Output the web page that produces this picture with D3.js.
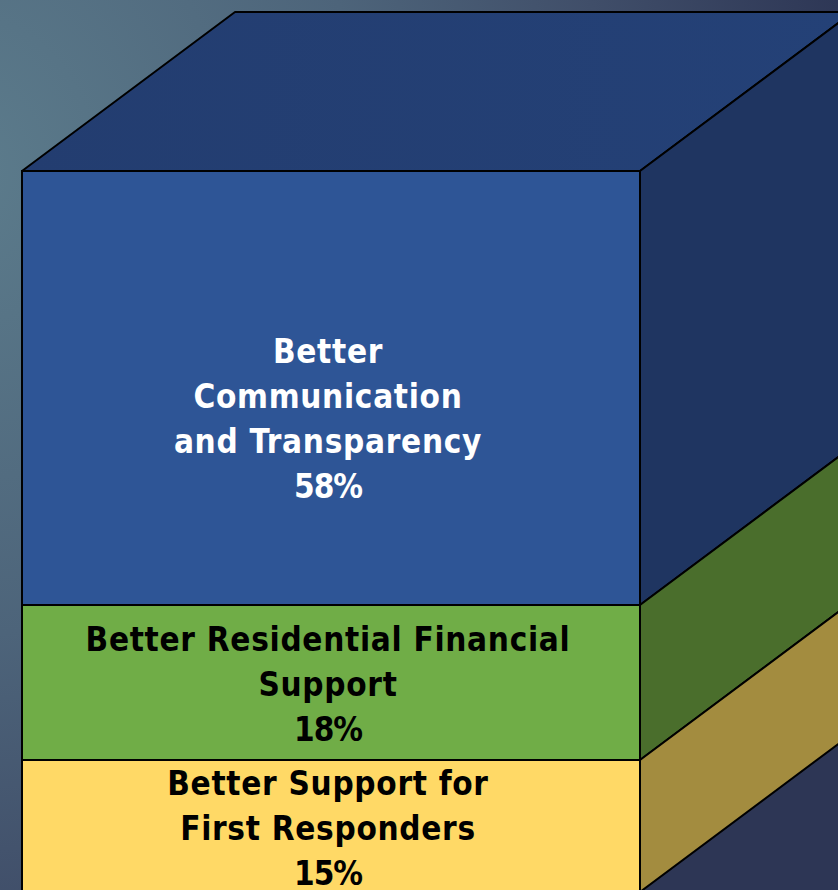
<!DOCTYPE html>
<html>
<head>
<meta charset="utf-8">
<script src="https://cdn.jsdelivr.net/npm/d3@7"></script>
<style>
html, body { margin: 0; padding: 0; overflow: hidden; }
svg { display: block; }
text { font-family: "DejaVu Sans"; font-stretch: condensed; font-weight: 700; font-size: 33px; letter-spacing: 0.7px; }
text.pct { letter-spacing: -1px; }
</style>
</head>
<body>
<div id="chart"></div>
<script>
const categories = ["Better Communication and Transparency", "Better Residential Financial Support", "Better Support for First Responders"];
const values = [58, 18, 15];
const labelLines = [
	["Better", "Communication", "and Transparency", "58%"],
	["Better Residential Financial", "Support", "18%"],
	["Better Support for", "First Responders", "15%"]
];
const frontColors = ["#2e5596", "#70ad47", "#ffd966"];
const sideColors = ["#1f3561", "#4a6e2c", "#a38c3f"];
const textColors = ["#ffffff", "#000000", "#000000"];
const labelFirstBaseline = [363, 651, 795];

const width = 838;
const height = 890;

// the bands in the picture are not quite proportional, so the scale goes through the cumulative totals
let cumulative = [0];
values.forEach(function(v){
	cumulative.push(cumulative[cumulative.length - 1] + v);
});
const y = d3.scaleLinear().domain(cumulative).range([171, 605, 760, 892]);
const x = d3.scaleLinear().domain([0, 1]).range([22, 640]);
const depthX = 213;
const depthY = -159;
const lineWidth = 2;

const svg = d3.select("#chart").append("svg").attr("width", width).attr("height", height);

const defs = svg.append("defs");
const bg = defs.append("radialGradient")
	.attr("id", "bg")
	.attr("gradientUnits", "userSpaceOnUse")
	.attr("cx", 0).attr("cy", 0).attr("r", 900)
	.attr("gradientTransform", "translate(-40,170) scale(1,1.15)");
bg.append("stop").attr("offset", "0").attr("stop-color", "#5c7c8c");
bg.append("stop").attr("offset", "0.45").attr("stop-color", "#4d647a");
bg.append("stop").attr("offset", "0.72").attr("stop-color", "#404e69");
bg.append("stop").attr("offset", "1").attr("stop-color", "#2d3655");

svg.append("rect").attr("width", width).attr("height", height).attr("fill", "url(#bg)");

// top face
const topFace = defs.append("linearGradient").attr("id", "topFace");
topFace.append("stop").attr("offset", "0").attr("stop-color", "#233d70");
topFace.append("stop").attr("offset", "1").attr("stop-color", "#244177");

svg.append("polygon")
	.attr("points", [
		[x(0), y(0)],
		[x(0) + depthX, y(0) + depthY],
		[x(1) + depthX, y(0) + depthY],
		[x(1), y(0)]
	].join(" "))
	.attr("fill", "url(#topFace)")
	.attr("stroke", "#000")
	.attr("stroke-width", lineWidth)
	.attr("stroke-linejoin", "round");

// one side face and one front face per segment
const segments = svg.selectAll("g.segment")
	.data(values)
	.enter()
	.append("g")
	.attr("class", "segment");

segments.append("polygon")
	.attr("points", function(d, i){
		let y0 = y(cumulative[i]);
		let y1 = y(cumulative[i + 1]);
		return [
			[x(1), y0],
			[x(1) + depthX, y0 + depthY],
			[x(1) + depthX, y1 + depthY],
			[x(1), y1]
		].join(" ");
	})
	.attr("fill", function(d, i){ return sideColors[i]; })
	.attr("stroke", "#000")
	.attr("stroke-width", lineWidth)
	.attr("stroke-linejoin", "round");

segments.append("rect")
	.attr("x", x(0))
	.attr("y", function(d, i){ return y(cumulative[i]); })
	.attr("width", x(1) - x(0))
	.attr("height", function(d, i){ return y(cumulative[i + 1]) - y(cumulative[i]); })
	.attr("fill", function(d, i){ return frontColors[i]; })
	.attr("stroke", "#000")
	.attr("stroke-width", lineWidth);

segments.each(function(d, i){
	let g = d3.select(this);
	labelLines[i].forEach(function(line, j){
		g.append("text")
			.attr("class", j == labelLines[i].length - 1 ? "pct" : null)
			.attr("x", 328)
			.attr("y", labelFirstBaseline[i] + j * 45)
			.attr("text-anchor", "middle")
			.attr("fill", textColors[i])
			.text(line);
	});
});
</script>
</body>
</html>
